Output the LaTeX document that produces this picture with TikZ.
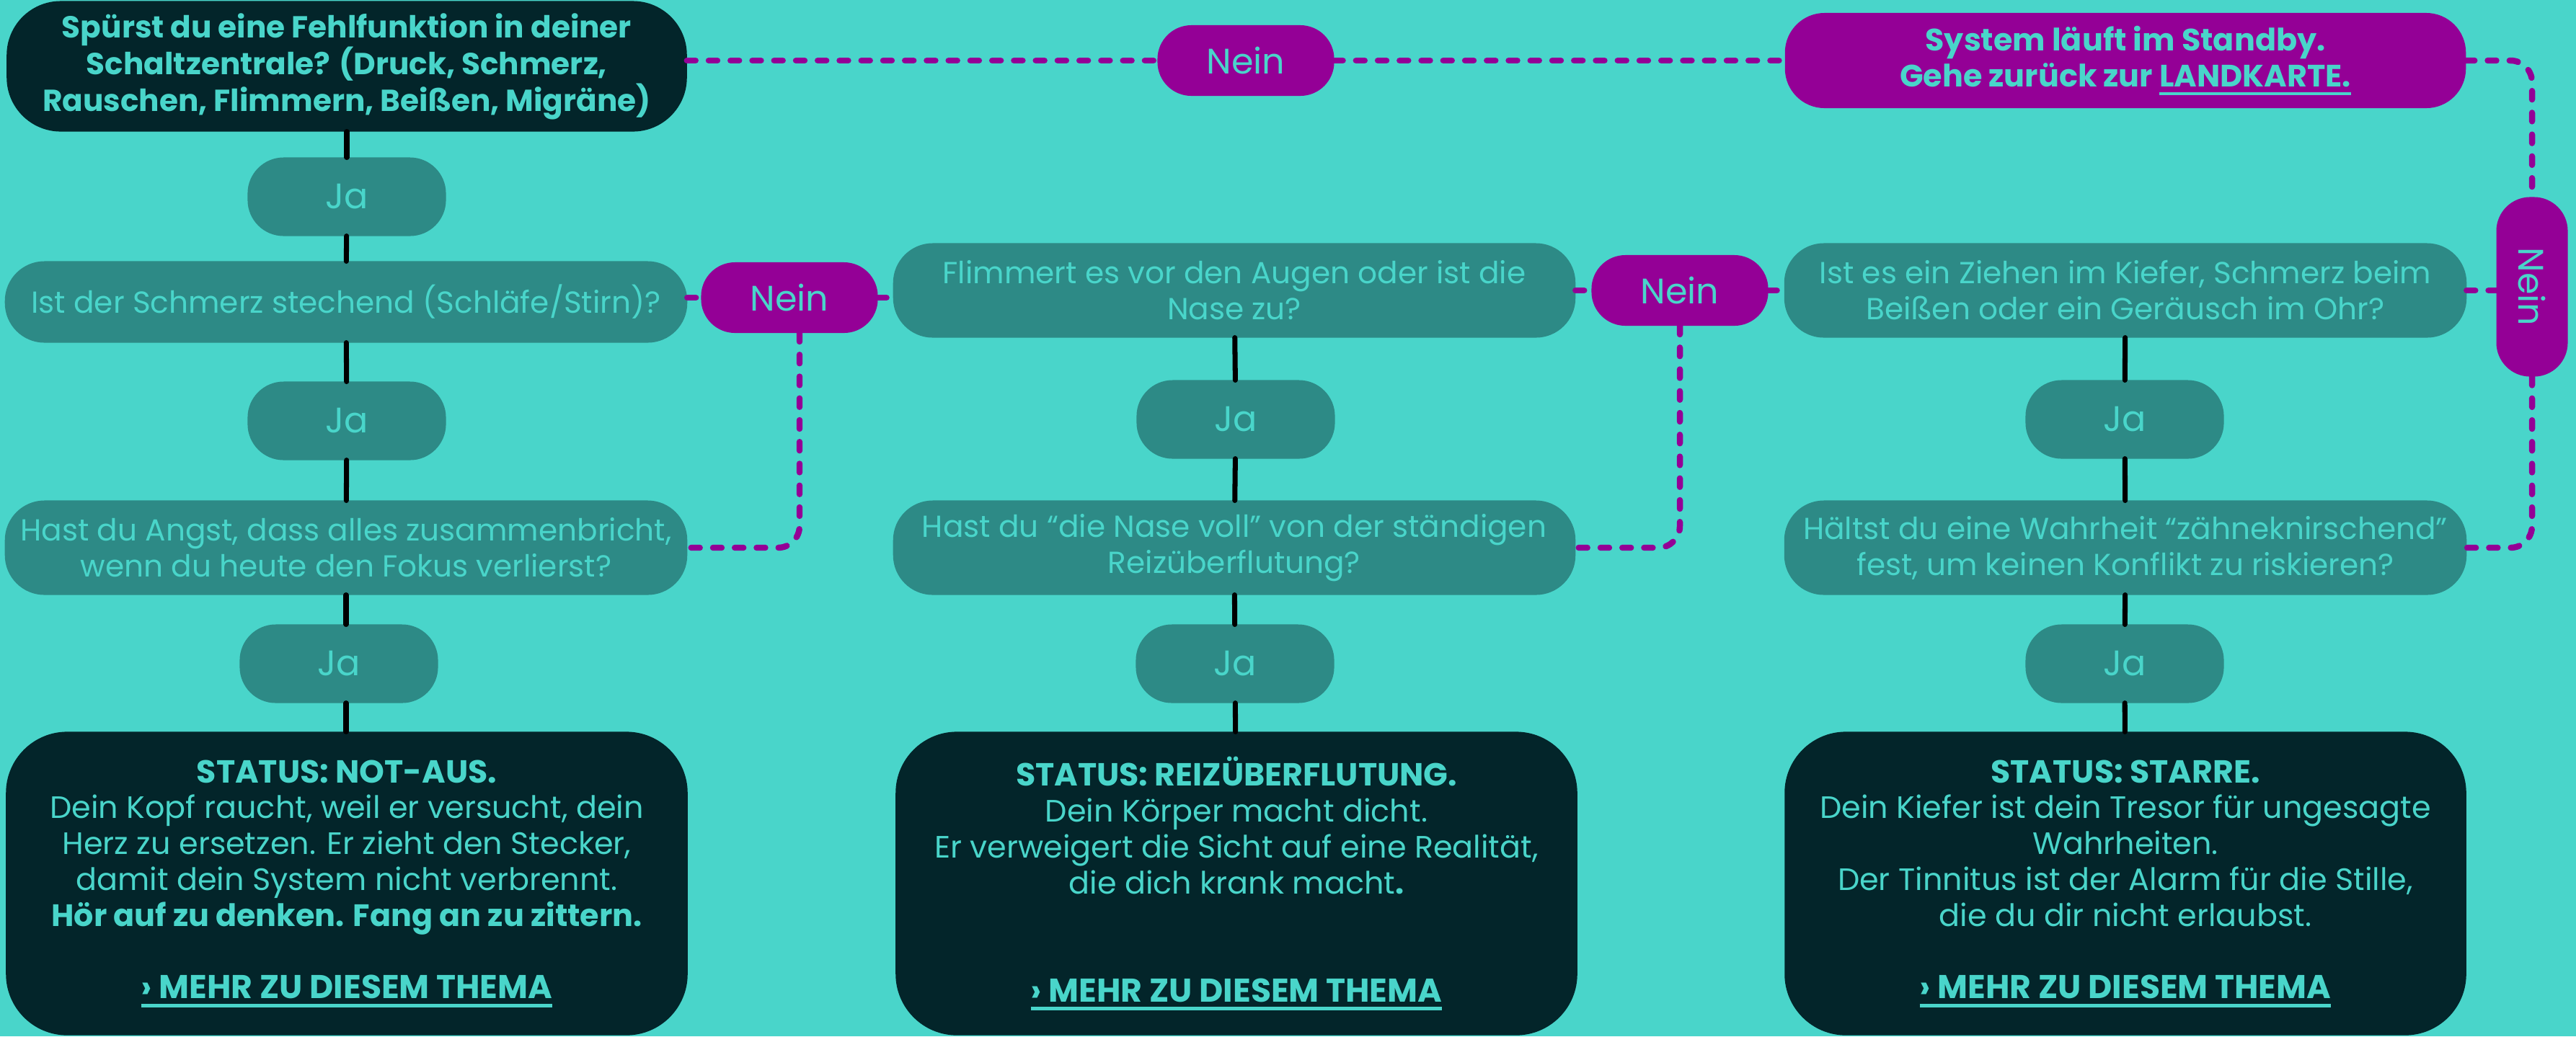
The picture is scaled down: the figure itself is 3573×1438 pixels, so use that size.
\documentclass[tikz,border=0pt]{standalone}
\usepackage{fontspec}
\setmainfont{Poppins}
\definecolor{bgc}{HTML}{49D5CA}
\definecolor{darkc}{HTML}{03252A}
\definecolor{midc}{HTML}{2D8A86}
\definecolor{magc}{HTML}{940096}
\definecolor{txtc}{HTML}{49D5CA}
% thick underline for links
\newcommand\linkul[1]{\setbox0\hbox{#1}\leavevmode\rlap{\rule[-3.4pt]{\wd0}{1.3pt}}\box0}
\newcommand\morelink{{\fontsize{13pt}{14.2pt}\selectfont\bfseries\linkul{› MEHR ZU DIESEM THEMA}}}
\begin{document}
\begin{tikzpicture}[x=0.01cm,y=-0.01cm,
  every node/.style={inner sep=0pt, outer sep=0pt, align=center, text=txtc},
  darkbox/.style={fill=darkc, rounded corners=0.75cm},
  qbox/.style={fill=midc, rounded corners=0.55cm, minimum width=9.46cm, minimum height=1.31cm,
    font=\fontsize{12pt}{14.2pt}\selectfont},
  jabox/.style={fill=midc, rounded corners=0.5cm, minimum width=2.75cm, minimum height=1.09cm,
    font=\fontsize{14pt}{16pt}\selectfont},
  neinbox/.style={fill=magc, rounded corners=0.47cm, minimum width=2.45cm, minimum height=0.98cm,
    font=\fontsize{14pt}{16pt}\selectfont},
  statbox/.style={darkbox, rounded corners=0.85cm, minimum width=9.45cm, minimum height=4.21cm,
    font=\fontsize{12.2pt}{14.2pt}\selectfont},
  yes/.style={draw=black, line width=2pt, line cap=round},
  nolink/.style={draw=magc, line width=2.4pt, line cap=round, dash pattern=on 3.4pt off 5.2pt,
    rounded corners=0.3cm}]
\fill[bgc] (0,0) rectangle (3573,1438);
\useasboundingbox (0,0) rectangle (3573,1438);

% left column
\node[darkbox, minimum width=9.43cm, minimum height=1.81cm,
  font=\bfseries\fontsize{12pt}{14.5pt}\selectfont] (top) at (481,92)
  {Spürst du eine Fehlfunktion in deiner\\Schaltzentrale? (Druck, Schmerz,\\Rauschen, Flimmern, Beißen, Migräne)};
\node[jabox] (ja1) at (481,273) {Ja};
\node[qbox, minimum height=1.13cm] (q1) at (480,419) {Ist der Schmerz stechend (Schläfe/Stirn)?};
\node[jabox] (ja2) at (481,584) {Ja};
\node[qbox] (q2) at (480,760) {Hast du Angst, dass alles zusammenbricht,\\wenn du heute den Fokus verlierst?};
\node[jabox] (ja3) at (470,921) {Ja};
\node[statbox] (st1) at (481,1226)
  {\textbf{\fontsize{12.6pt}{14.2pt}\selectfont STATUS: NOT-AUS.}\\
   Dein Kopf raucht, weil er versucht, dein\\
   Herz zu ersetzen. Er zieht den Stecker,\\
   damit dein System nicht verbrennt.\\
   \textbf{Hör auf zu denken. Fang an zu zittern.}\\[14.2pt]
   \morelink};

% middle column
\node[qbox] (q3) at (1712,403) {Flimmert es vor den Augen oder ist die\\Nase zu?};
\node[jabox] (ja4) at (1714,582) {Ja};
\node[qbox] (q4) at (1712,760) {Hast du “die Nase voll” von der ständigen\\Reizüberflutung?};
\node[jabox] (ja5) at (1713,921) {Ja};
\node[statbox] (st2) at (1715,1226)
  {\textbf{\fontsize{12.6pt}{14.2pt}\selectfont STATUS: REIZÜBERFLUTUNG.}\\
   Dein Körper macht dicht.\\
   Er verweigert die Sicht auf eine Realität,\\
   die dich krank macht\textbf{.}\\[28.4pt]
   \morelink};

% right column
\node[fill=magc, rounded corners=0.55cm, minimum width=9.44cm, minimum height=1.32cm,
  font=\bfseries\fontsize{12.2pt}{14.2pt}\selectfont] (standby) at (2948,84)
  {System läuft im Standby.\\Gehe zurück zur \linkul{LANDKARTE.}};
\node[qbox] (q5) at (2948,403) {Ist es ein Ziehen im Kiefer, Schmerz beim\\Beißen oder ein Geräusch im Ohr?};
\node[jabox] (ja6) at (2947,582) {Ja};
\node[qbox] (q6) at (2948,760) {Hältst du eine Wahrheit “zähneknirschend”\\fest, um keinen Konflikt zu riskieren?};
\node[jabox] (ja7) at (2947,921) {Ja};
\node[statbox] (st3) at (2948,1226)
  {\textbf{\fontsize{12.6pt}{14.2pt}\selectfont STATUS: STARRE.}\\
   Dein Kiefer ist dein Tresor für ungesagte\\
   Wahrheiten.\\
   Der Tinnitus ist der Alarm für die Stille,\\
   die du dir nicht erlaubst.\\[14.2pt]
   \morelink};

% "Nein" branches
\node[neinbox] (nein0) at (1728,84) {Nein};
\node[neinbox] (nein1) at (1095,413) {Nein};
\node[neinbox] (nein2) at (2330,403) {Nein};
\node[neinbox, minimum width=0.99cm, minimum height=2.49cm] (neinV) at (3512,398) {\rotatebox{-90}{Nein}};
\coordinate (n1out) at (1109,462);

% "Ja" paths
\draw[yes] (top) -- (ja1);
\draw[yes] (ja1) -- (q1);
\draw[yes] (q1) -- (ja2);
\draw[yes] (ja2) -- (q2);
\draw[yes] (q2.south) -- (q2.south |- ja3.north);
\draw[yes] (q2.south |- ja3.south) -- (st1.north -| q2.south);
\draw[yes] (q3) -- (ja4);
\draw[yes] (ja4) -- (q4);
\draw[yes] (q4) -- (ja5);
\draw[yes] (ja5) -- (st2);
\draw[yes] (q5) -- (ja6);
\draw[yes] (ja6) -- (q6);
\draw[yes] (q6) -- (ja7);
\draw[yes] (ja7) -- (st3);

% "Nein" paths
\draw[nolink] (top.east |- nein0.west) -- (nein0.west);
\draw[nolink] (nein0.east) -- (standby.west);
\draw[nolink] (standby.east) -| (neinV.north);
\draw[nolink] (neinV.south) |- (q6.east);
\draw[nolink] (q5.east) -- (neinV.west |- q5.east);
\draw[nolink] (q1.east |- nein1.west) -- (nein1.west);
\draw[nolink] (nein1.east) -- (q3.west |- nein1.east);
\draw[nolink] (n1out) |- (q2.east);
\draw[nolink] (q3.east) -- (nein2.west);
\draw[nolink] (nein2.east) -- (q5.west);
\draw[nolink] (nein2.south) |- (q4.east);
\end{tikzpicture}
\end{document}
